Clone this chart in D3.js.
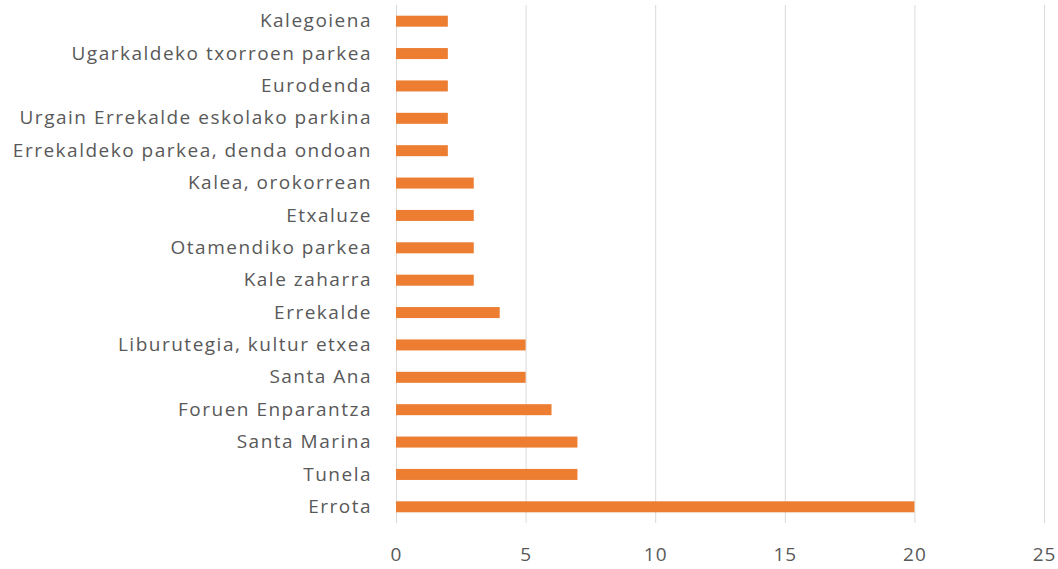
<!doctype html>
<html>
  <head>
    <meta charset="utf-8">
    <script src="https://cdn.jsdelivr.net/npm/d3@7"></script>
    <style>
      body { margin: 0; background: #fff; }
      svg text { font-family: 'Open Sans', sans-serif; fill: #595959; }
    </style>
  </head>
  <body>
    <svg class="chart"></svg>
  <script>

    // categories top to bottom as in the picture
    const places = ['Kalegoiena', 'Ugarkaldeko txorroen parkea', 'Eurodenda',
      'Urgain Errekalde eskolako parkina', 'Errekaldeko parkea, denda ondoan',
      'Kalea, orokorrean', 'Etxaluze', 'Otamendiko parkea', 'Kale zaharra',
      'Errekalde', 'Liburutegia, kultur etxea', 'Santa Ana', 'Foruen Enparantza',
      'Santa Marina', 'Tunela', 'Errota']
    const counts = [2, 2, 2, 2, 2, 3, 3, 3, 3, 4, 5, 5, 6, 7, 7, 20]
    const ticks = [0, 5, 10, 15, 20, 25]

    const width = 1058, height = 569
    const margin = { top: 5, right: 14, bottom: 46, left: 396 }

    const svg = d3.select("svg")
      .attr("width", width)
      .attr("height", height)

    const x = d3.scaleLinear()
      .domain([0, 25])
      .range([margin.left, width - margin.right])

    const y = d3.scaleBand()
      .domain(places)
      .range([margin.top, height - margin.bottom])
      .paddingInner(0.66)
      .paddingOuter(0.33)

    // gridlines
    svg.append("g")
      .selectAll("line")
      .data(ticks)
      .enter().append("line")
        .attr("x1", d => x(d) + 0.5)
        .attr("x2", d => x(d) + 0.5)
        .attr("y1", margin.top)
        .attr("y2", height - margin.bottom)
        .attr("stroke", "#d9d9d9")
        .attr("stroke-width", 1)

    svg.append("g")
      .selectAll("rect")
      .data(counts)
      .enter().append("rect")
        .attr("x", x(0))
        .attr("y", (d, i) => y(places[i]))
        .attr("width", d => x(d) - x(0))
        .attr("height", y.bandwidth())
        .attr("fill", "#ed7d31")

    const xAxis = d3.axisBottom(x)
      .tickValues(ticks)
      .tickSize(0)
      .tickPadding(25)

    svg.append("g")
      .attr("transform", "translate(0," + (height - margin.bottom) + ")")
      .call(xAxis)
      .call(g => g.select(".domain").remove())
      .selectAll("text")
        .style("font-size", "19px")
        .style("letter-spacing", "1px")

    const yAxis = d3.axisLeft(y)
      .tickSize(0)
      .tickPadding(24)

    svg.append("g")
      .attr("transform", "translate(" + margin.left + ",0)")
      .call(yAxis)
      .call(g => g.select(".domain").remove())
      .selectAll("text")
        .style("font-size", "19px")
        .style("letter-spacing", "1.5px")

  </script>
  </body>
</html>
